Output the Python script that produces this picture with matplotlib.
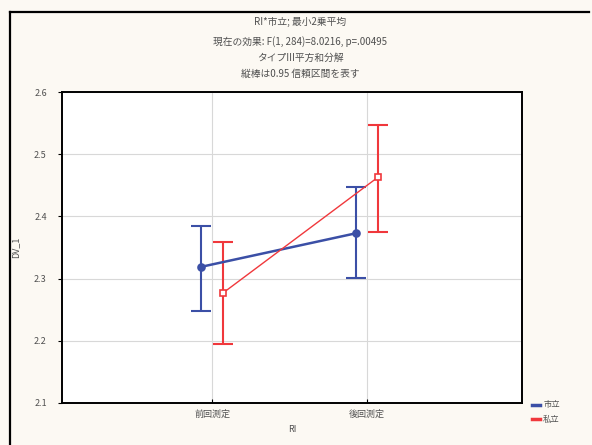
import matplotlib
matplotlib.use("Agg")
import matplotlib.pyplot as plt
from matplotlib.lines import Line2D
import numpy as np

plt.rcParams['font.family'] = ['Noto Sans CJK JP', 'DejaVu Sans']

# Data: least-squares means with 0.95 confidence limits
categories = ["前回測定", "後回測定"]
groups = ["市立", "私立"]
means_a = [2.319, 2.373]
lower_a = [2.248, 2.301]
upper_a = [2.385, 2.447]
means_b = [2.277, 2.463]
lower_b = [2.195, 2.375]
upper_b = [2.359, 2.547]
yticks = [2.1, 2.2, 2.3, 2.4, 2.5, 2.6]

title_lines = [
    "RI*市立; 最小2乗平均",
    "現在の効果: F(1, 284)=8.0216, p=.00495",
    "タイプIII平方和分解",
    "縦棒は0.95 信頼区間を表す",
]

blue = "#3b4fa6"
red = "#f0383c"
txt = "#505050"

fig = plt.figure(figsize=(5.92, 4.45), dpi=100)
fig.patch.set_facecolor("#fcf9f3")

# outer frame: left and top edges of the surrounding panel
fx, fy = 10 / 592, 1 - 12 / 445
fig.add_artist(Line2D([fx, fx], [0, fy], transform=fig.transFigure,
                      color="black", lw=1.6))
fig.add_artist(Line2D([fx, 0.995], [fy, fy], transform=fig.transFigure,
                      color="black", lw=1.6))

ax = fig.add_axes([62 / 592, 1 - 403 / 445, 460 / 592, 311 / 445])
ax.set_facecolor("white")

x = np.arange(len(categories))
off = 0.07

def draw(xpos, m, lo, hi, color, lw, marker, mfc, ms):
    m = np.array(m); lo = np.array(lo); hi = np.array(hi)
    ax.errorbar(xpos, m, yerr=[m - lo, hi - m], fmt="none", ecolor=color,
                elinewidth=1.5, capsize=7, capthick=1.5, zorder=3)
    ax.plot(xpos, m, color=color, lw=lw, marker=marker, mfc=mfc, mec=color,
            ms=ms, mew=1.2, zorder=4)

draw(x - off, means_a, lower_a, upper_a, blue, 1.8, "o", blue, 5)
draw(x + off, means_b, lower_b, upper_b, red, 1.0, "s", "white", 4)

ax.set_xlim(-0.97, 2.0)
ax.set_ylim(2.1, 2.6)
ax.set_xticks(x)
ax.set_xticklabels(categories)
ax.set_yticks(yticks)
ax.set_yticklabels([f"{v:g}" for v in yticks])
ax.grid(True, color="#d8d8d8", linewidth=0.8)
ax.set_axisbelow(True)
for s in ax.spines.values():
    s.set_color("black")
    s.set_linewidth(1.4)
ax.tick_params(axis="x", direction="in", length=3, labelsize=6.5, colors="black",
               labelcolor=txt, pad=5)
ax.tick_params(axis="y", direction="out", length=3, labelsize=6.5, colors="black",
               labelcolor=txt, pad=8)
ax.set_xlabel("RI", fontsize=6.5, color=txt, labelpad=4)
ax.set_ylabel("DV_1", fontsize=6.5, color=txt, labelpad=10)

ys = [22, 42, 58, 74]
for line, yy in zip(title_lines, ys):
    fig.text(300 / 592, 1 - yy / 445, line, ha="center", va="center",
             fontsize=7, color=txt)

handles = [Line2D([], [], color=blue, lw=2.5), Line2D([], [], color=red, lw=2.5)]
fig.legend(handles, groups, loc="center left",
           bbox_to_anchor=(524 / 592, 1 - 412 / 445), frameon=False,
           fontsize=6, handlelength=1.0, handletextpad=0.4, labelspacing=0.6,
           labelcolor=txt)

fig.savefig("out.png", dpi=100, facecolor=fig.get_facecolor())
